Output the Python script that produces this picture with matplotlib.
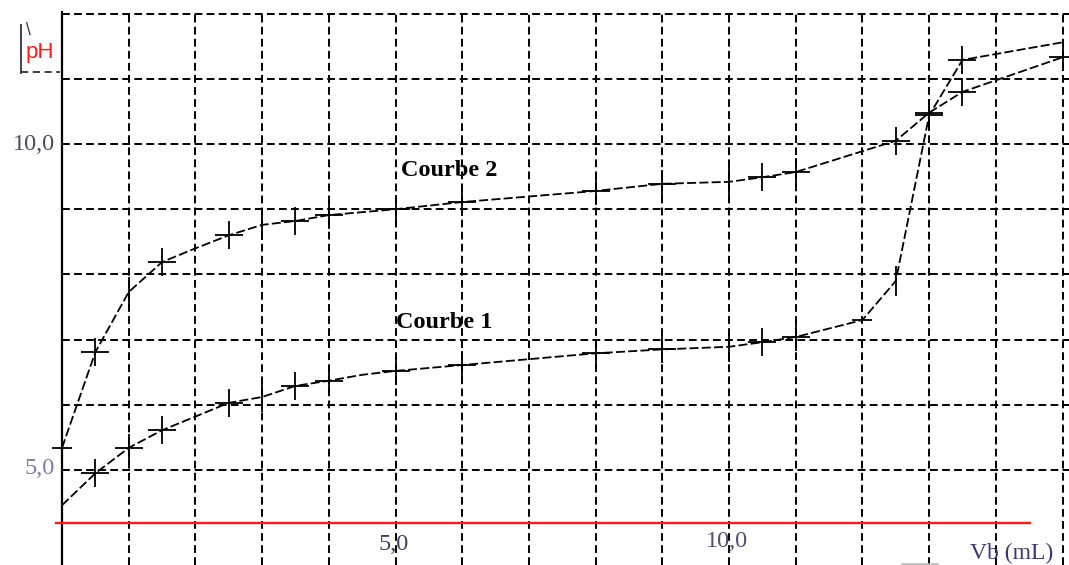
import matplotlib
matplotlib.use("Agg")
import matplotlib.pyplot as plt

# titration data: volume of base added (mL) and measured pH
vb_1 = [0, 0.5, 1, 1.5, 2, 2.5, 3, 3.5, 4, 4.5, 5, 6, 8, 9, 10, 10.5, 11, 12, 12.5, 13, 13.5, 15]
ph_1 = [4.46, 4.95, 5.34, 5.61, 5.82, 6.03, 6.12, 6.29, 6.37, 6.46, 6.52, 6.61, 6.79, 6.85,
        6.89, 6.96, 7.04, 7.30, 7.90, 10.44, 11.29, 11.56]

vb_2 = [0, 0.5, 1, 1.5, 2, 2.5, 3, 3.5, 4, 5, 6, 8, 9, 10, 10.5, 11, 12.5, 13, 13.5, 15]
ph_2 = [5.34, 6.81, 7.73, 8.19, 8.40, 8.60, 8.76, 8.82, 8.91, 9.00, 9.11, 9.28, 9.39, 9.42,
        9.49, 9.57, 10.05, 10.48, 10.80, 11.33]

curve_names = ["Courbe 1", "Courbe 2"]
y_ticks = [5, 10]
y_tick_labels = ["5,0", "10,0"]
x_ticks = [5, 10]
x_tick_labels = ["5,0", "10,0"]
x_label = "Vb (mL)"
y_label = "pH"

# which recorded points get a full cross, a bar only, or a flat dash
cross_1 = [1, 2, 3, 5, 7, 8, 10, 11, 12, 13, 15, 16, 19, 20]
bar_1 = [6, 14, 18]
dash_1 = [17]
cross_2 = [1, 3, 5, 7, 8, 9, 10, 11, 12, 14, 15, 16, 17, 18, 19]
bar_2 = [2, 6, 13]
dash_2 = [0]

serif = "Liberation Serif"
sans = "Liberation Sans"

fig = plt.figure(figsize=(10.69, 5.65), dpi=100)
ax = fig.add_axes([0, 0, 1, 1])
ax.set_axis_off()
ax.set_xlim(-0.93, 15.097)
ax.set_ylim(3.543, 12.209)

top = 12.02
grid_kw = dict(color="black", lw=1.4, linestyles=[(0, (4.0, 2.2))], zorder=1)
ax.vlines(range(1, 16), 3.543, top, **grid_kw)
ax.hlines(range(5, 13), 0, 15.2, **grid_kw)

# left axis and the red baseline
ax.plot([0, 0], [3.543, 12.03], color="black", lw=1.6, zorder=2)
ax.plot([-0.09, 14.51], [4.19, 4.19], color="#ff1a1a", lw=1.7, zorder=2)


def draw_curve(vb, ph, cross, bar, dash):
    ax.plot(vb, ph, color="black", lw=1.3, ls=(0, (5, 1.8)), zorder=3)
    ax.plot([vb[i] for i in cross], [ph[i] for i in cross], ls="none", marker="+",
            ms=20, mew=1.3, color="black", zorder=4)
    ax.plot([vb[i] for i in bar], [ph[i] for i in bar], ls="none", marker="|",
            ms=22, mew=1.3, color="black", zorder=4)
    ax.plot([vb[i] for i in dash], [ph[i] for i in dash], ls="none", marker="_",
            ms=15, mew=1.3, color="black", zorder=4)


draw_curve(vb_1, ph_1, cross_1, bar_1, dash_1)
draw_curve(vb_2, ph_2, cross_2, bar_2, dash_2)

ax.text(5.0, 7.27, curve_names[0], fontfamily=serif, fontweight="bold", fontsize=17.5,
        ha="left", va="center", zorder=5)
ax.text(5.08, 9.6, curve_names[1], fontfamily=serif, fontweight="bold", fontsize=17.5,
        ha="left", va="center", zorder=5)

# tick labels
ax.text(-0.105, y_ticks[1], y_tick_labels[1], fontfamily=serif, fontsize=17.5,
        color="#4a4a60", ha="right", va="center")
ax.text(-0.105, y_ticks[0] + 0.03, y_tick_labels[0], fontfamily=serif, fontsize=17.5,
        color="#7a7ab0", ha="right", va="center")
ax.text(x_ticks[0] - 0.03, 3.85, x_tick_labels[0], fontfamily=serif, fontsize=17.5,
        color="#404060", ha="center", va="center")
ax.text(x_ticks[1] - 0.03, 3.91, x_tick_labels[1], fontfamily=serif, fontsize=17.5,
        color="#50506a", ha="center", va="center")
ax.text(13.61, 3.56, x_label, fontfamily=serif, fontsize=17, color="#3a3a70",
        ha="left", va="bottom")
ax.plot([12.6, 13.13], [3.565, 3.565], color="#bbbbbb", lw=1.2)

# pH label with its little bracket
ax.text(-0.55, 11.32, y_label, fontfamily=sans, fontsize=16, color="#ff1a1a",
        ha="left", va="baseline")
ax.plot([-0.615, -0.615], [11.09, 11.83], color="#303040", lw=1.3)
ax.plot([-0.53, -0.48], [11.86, 11.68], color="#303040", lw=0.9)
ax.plot([-0.615, -0.03], [11.10, 11.10], color="#303040", lw=1.3, ls=(0, (4, 2.5)))

fig.savefig("out.png", dpi=100)
